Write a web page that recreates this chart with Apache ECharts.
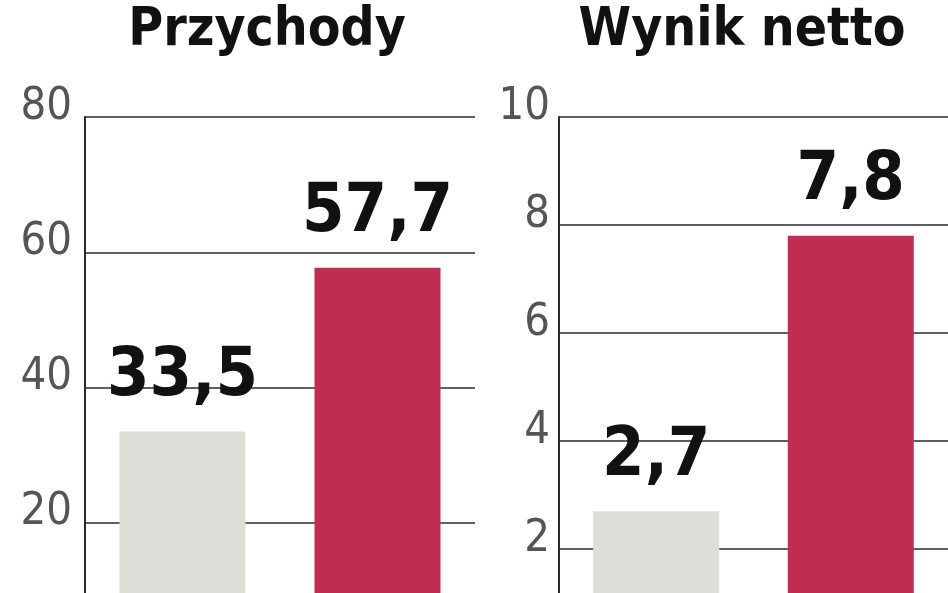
<!DOCTYPE html>
<html>
<head>
<meta charset="utf-8">
<script src="https://cdn.jsdelivr.net/npm/echarts@6/dist/echarts.min.js"></script>
<style>html,body{margin:0;padding:0;background:#fff;overflow:hidden;width:948px;height:593px}#c{width:948px;height:720px}</style>
</head>
<body>
<div id="c"></div>
<script>
var categories = ["okres poprzedni", "okres bieżący"];
var revenue = [33.5, 57.7];
var netIncome = [2.7, 7.8];
var titles = ["Przychody", "Wynik netto"];
var revenueTicks = { min: 0, max: 80, interval: 20 };
var netTicks = { min: 0, max: 10, interval: 2 };
var barColors = ["#dfddd7", "#c12c51"];

var FONT = "'DejaVu Sans Condensed', 'Liberation Sans Narrow', sans-serif";

function mkData(vals) {
  return vals.map(function (v, i) {
    return { value: v, itemStyle: { color: barColors[i] } };
  });
}
function yAxis(idx, t, margin) {
  return {
    type: 'value', gridIndex: idx, min: t.min, max: t.max, interval: t.interval,
    axisLine: { show: true, lineStyle: { color: '#2a2a2a', width: 2 } },
    axisTick: { show: false },
    splitLine: { show: true, lineStyle: { color: '#2a2a2a', width: 1.5 } },
    axisLabel: {
      show: true, fontSize: 45, fontFamily: FONT, color: '#555', margin: margin,
      verticalAlign: 'bottom', lineHeight: 20,
      showMinLabel: false
    }
  };
}
function xAxis(idx) {
  return {
    type: 'category', gridIndex: idx, data: categories,
    axisLine: { show: false }, axisTick: { show: false }, axisLabel: { show: false }
  };
}
function series(idx, vals) {
  return {
    type: 'bar', xAxisIndex: idx, yAxisIndex: idx, data: mkData(vals), barWidth: 126,
    label: {
      show: true, position: 'top', distance: 20,
      fontSize: 68, fontWeight: 'bold', fontFamily: FONT, color: '#111',
      formatter: function (p) { return String(p.value).replace('.', ','); }
    }
  };
}

var chart = echarts.init(document.getElementById('c'), null, { renderer: 'canvas' });
chart.setOption({
  animation: false,
  backgroundColor: '#fff',
  title: [
    { text: titles[0], left: 262, top: 0, textAlign: 'center',
      textStyle: { fontSize: 53, fontWeight: 'bold', fontFamily: FONT, color: '#111' } },
    { text: titles[1], left: 737, top: 0, textAlign: 'center',
      textStyle: { fontSize: 53, fontWeight: 'bold', fontFamily: FONT, color: '#111' } }
  ],
  grid: [
    { left: 85, width: 390, top: 117, height: 541 },
    { left: 559, width: 389, top: 117, height: 540 }
  ],
  xAxis: [xAxis(0), xAxis(1)],
  yAxis: [yAxis(0, revenueTicks, 13), yAxis(1, netTicks, 9)],
  series: [series(0, revenue), series(1, netIncome)]
});
</script>
</body>
</html>
